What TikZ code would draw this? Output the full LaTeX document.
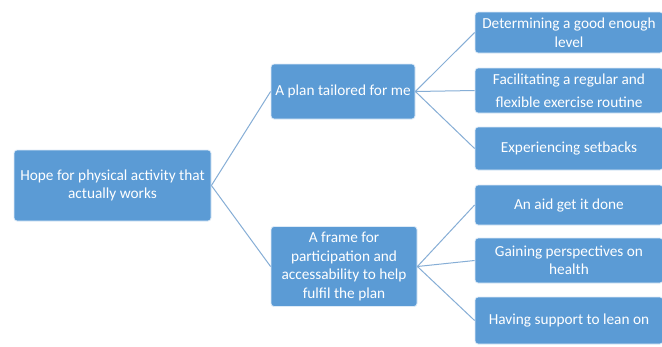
\documentclass[tikz,border=0pt]{standalone}
\usepackage{fontspec}
\setmainfont{Carlito}
\begin{document}
\begin{tikzpicture}[x=1pt,y=-1pt,
  box/.style={draw=white!80!boxblue, line width=0.8pt, fill=boxblue, rounded corners=3pt,
    text=white, align=center, font=\fontsize{15.3}{18.5}\selectfont, inner sep=1pt},
  conn/.style={draw=linecol, line width=1pt}]
\definecolor{boxblue}{HTML}{5B9BD5}
\definecolor{linecol}{HTML}{86AED6}
\useasboundingbox[fill=white] (0,0) rectangle (662,346);
\node[box, minimum width=197pt, minimum height=71pt] (root) at (112.5,185.5) {Hope for physical activity that\\actually works};
\node[box, minimum width=144pt, minimum height=55pt] (m1) at (343,91.5) {A plan tailored for me};
\node[box, minimum width=146pt, minimum height=80pt] (m2) at (344,266.5) {A frame for\\participation and\\accessability to help\\fulfil the plan};
\node[box, minimum width=188pt, minimum height=41pt] (c1) at (569,32.5) {Determining a good enough\\level};
\node[box, minimum width=188pt, minimum height=45pt, font=\fontsize{15.3}{23}\selectfont] (c2) at (569,90.5) {Facilitating a regular and\\flexible exercise routine};
\node[box, minimum width=188pt, minimum height=43pt] (c3) at (569,148.5) {Experiencing setbacks};
\node[box, minimum width=188pt, minimum height=40pt] (c4) at (569,205) {An aid get it done};
\node[box, minimum width=188pt, minimum height=45pt] (c5) at (569,260.5) {Gaining perspectives on\\health};
\node[box, minimum width=188pt, minimum height=47pt] (c6) at (569,320.5) {Having support to lean on};
\draw[conn] (root.east) -- (m1.west);
\draw[conn] (root.east) -- (m2.west);
\draw[conn] (m1.east) -- (c1.west);
\draw[conn] (m1.east) -- (c2.west);
\draw[conn] (m1.east) -- (c3.west);
\draw[conn] (m2.east) -- (c4.west);
\draw[conn] (m2.east) -- (c5.west);
\draw[conn] (m2.east) -- (c6.west);
\end{tikzpicture}
\end{document}
